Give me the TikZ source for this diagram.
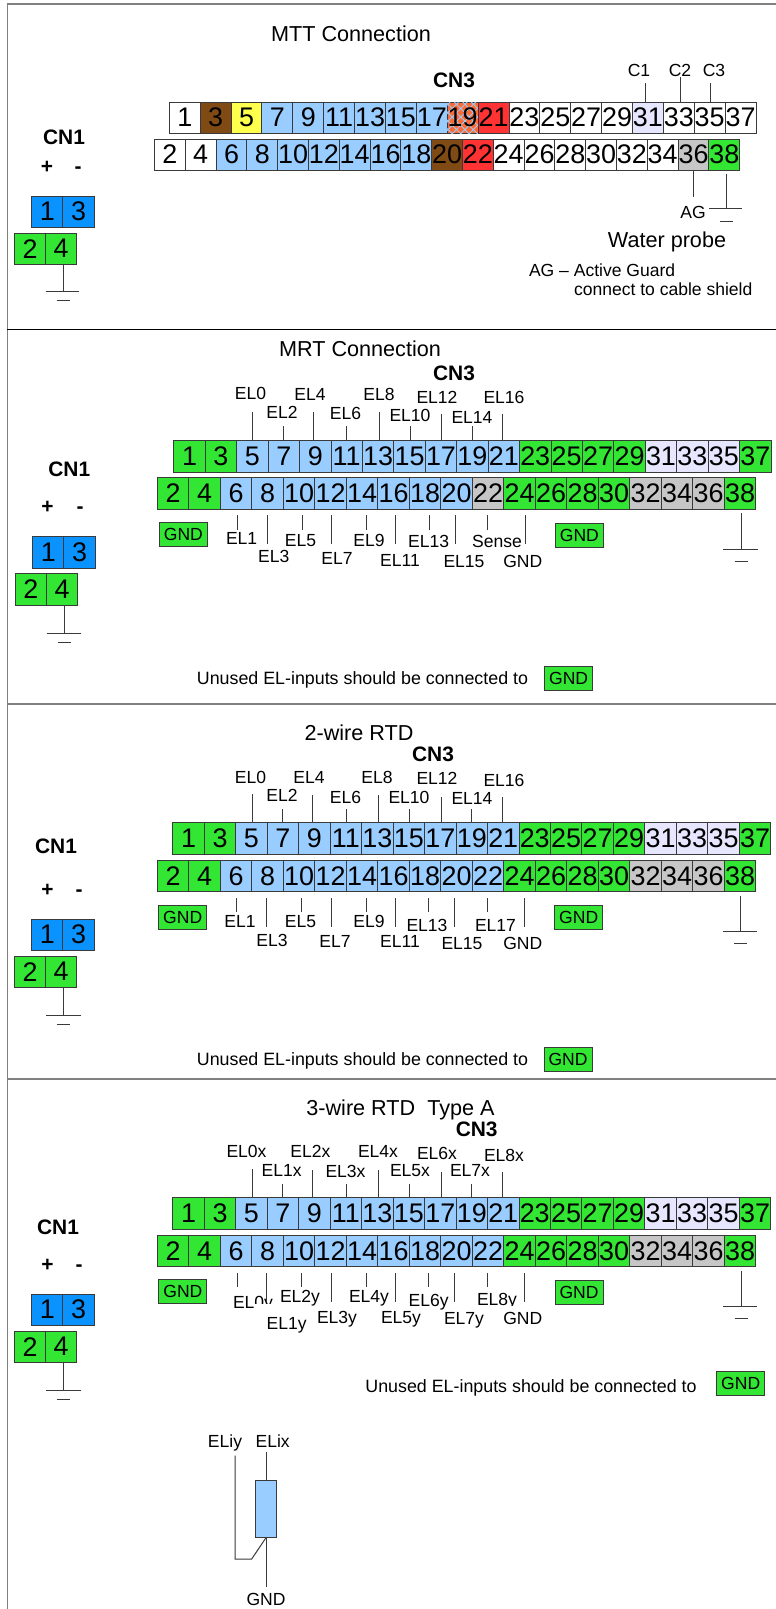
\documentclass[tikz,border=0pt]{standalone}
\usepackage{fontspec}
\setmainfont{Liberation Sans}
\usetikzlibrary{patterns.meta}
\definecolor{cWire}{HTML}{3A3A3A}
\definecolor{cBlue}{HTML}{99CCFF}
\definecolor{cGreen}{HTML}{33E633}
\definecolor{cDeep}{HTML}{0A93FF}
\definecolor{cBrown}{HTML}{7F4A14}
\definecolor{cYellow}{HTML}{FFFF4D}
\definecolor{cRed}{HTML}{FF3333}
\definecolor{cLav}{HTML}{E6E6FF}
\definecolor{cGray}{HTML}{C6C6C6}
\definecolor{cOrange}{HTML}{FF6A33}
\tikzset{
  pw/.style={fill=white}, pb/.style={fill=cBlue}, pg/.style={fill=cGreen},
  pd/.style={fill=cDeep}, pn/.style={fill=cBrown}, py/.style={fill=cYellow},
  pr/.style={fill=cRed}, pl/.style={fill=cLav}, pa/.style={fill=cGray},
  ph/.style={fill=cOrange,
    postaction={pattern={Lines[angle=45,distance=6pt,line width=.9pt]},pattern color=cBlue},
    postaction={pattern={Lines[angle=-45,distance=6pt,line width=.9pt]},pattern color=cBlue}},
  cell/.style={draw=cWire,line width=.9pt,rectangle,inner sep=0pt,outer sep=0pt,
    font=\fontsize{27}{30}\selectfont},
  lab/.style={inner sep=0pt,outer sep=0pt,text height=12.4pt,text depth=0pt,
    font=\fontsize{17.6}{20}\selectfont},
  note/.style={lab,font=\fontsize{17.9}{20}\selectfont},
  ttl/.style={inner sep=0pt,outer sep=0pt,text height=15.4pt,text depth=0pt,
    font=\fontsize{21.7}{25}\selectfont},
  bld/.style={inner sep=0pt,outer sep=0pt,text height=15pt,text depth=0pt,
    font=\fontsize{21}{25}\selectfont\bfseries},
  wire/.style={draw=cWire,line width=.9pt},
  frameline/.style={draw=gray,line width=1.3pt},
  gndbox/.style={draw=cWire,line width=.9pt,fill=cGreen,inner sep=0pt,outer sep=0pt,
    minimum width=48bp,minimum height=24bp,text height=12.4pt,text depth=0pt,
    font=\fontsize{17.6}{20}\selectfont},
  resistor/.style={draw=cWire,line width=1pt,fill=cBlue}
}
% prefix, x0, y centre, cell width, cell height, first number, styles
\newcommand{\pinrow}[7]{%
  \foreach \c [count=\i from 0] in {#7}{%
    \pgfmathtruncatemacro\n{#6+2*\i}%
    \node[cell,\c,minimum width=#4bp,minimum height=#5bp] (#1\n) at ({#2+(\i+.5)*#4},#3) {\n};
  }}
\newcommand{\labs}[2]{%
  \foreach \x/\y/\t [count=\i] in {#2}{\node[lab] (#1\i) at (\x,\y) {\t};}}
% wire from a free end down to a pin
\newcommand{\pinwires}[2]{%
  \foreach \x/\y/\p [count=\i] in {#2}{%
    \coordinate (#1f\i) at (\x,\y);
    \draw[wire] (#1f\i) -- (#1f\i |- \p.north);}}
% free wires
\newcommand{\freewires}[2]{%
  \foreach \x/\y/\z [count=\i] in {#2}{%
    \coordinate (#1a\i) at (\x,\y);
    \coordinate (#1b\i) at (\x,\z);
    \draw[wire] (#1a\i) -- (#1b\i);}}
% name, x, y end of stem, bar left, bar right, dash y, stem start y
\newcommand{\earth}[7]{%
  \coordinate (#1s) at (#2,#7);
  \coordinate (#1e) at (#2,#3);
  \coordinate (#1l) at (#4,#3);
  \coordinate (#1r) at (#5,#3);
  \draw[wire] (#1s) -- (#1e);
  \draw[wire] (#1l) -- (#1r);
  \coordinate (#1dl) at (#2-6.5,#6);
  \coordinate (#1dr) at (#2+6.5,#6);
  \draw[wire] (#1dl) -- (#1dr);}
\newcommand{\cnone}[9]{%
  \node[bld] (#1cn) at (#2,#3) {CN1};
  \node[bld] (#1plus) at (#4,#6) {+};
  \node[bld] (#1minus) at (#5,#6) {-};
  \pinrow{#1q}{#7}{#8+15.7}{31.2}{31.2}{1}{pd,pd}
  \pinrow{#1q}{#9}{#8+52.7}{31.2}{31.2}{2}{pg,pg}}
\begin{document}
\begin{tikzpicture}[x=1bp,y=-1bp]
\useasboundingbox (0,0) rectangle (776,1609);
\fill[white] (0,0) rectangle (776,1609);
% frame
\coordinate (ftl) at (7.4,4);
\coordinate (ftr) at (776,4);
\coordinate (fbl) at (7.4,1609);
\draw[frameline] (ftr) -- (ftl) -- (fbl);
\coordinate (d1l) at (7.4,329); \coordinate (d1r) at (776,329);
\draw[draw=black,line width=.9pt] (d1l) -- (d1r);
\coordinate (d2l) at (7.4,704); \coordinate (d2r) at (776,704);
\draw[frameline] (d2l) -- (d2r);
\coordinate (d3l) at (7.4,1079); \coordinate (d3r) at (776,1079);
\draw[frameline] (d3l) -- (d3r);

%% Section 1: MTT
\node[ttl] (t1) at (351,33.5) {MTT Connection};
\node[bld] (a1) at (454,80) {CN3};
\pinrow{a}{169.3}{117.5}{30.88}{31}{1}{pw,pn,py,pb,pb,pb,pb,pb,pb,ph,pr,pw,pw,pw,pw,pl,pw,pw,pw}
\pinrow{a}{154.5}{154.5}{30.8}{31}{2}{pw,pw,pb,pb,pb,pb,pb,pb,pb,pn,pr,pw,pw,pw,pw,pw,pw,pa,pg}
\cnone{a}{64}{137}{47}{78}{166}{31.7}{196}{14.4}
\earth{ag}{63}{291}{45.5}{79}{300}{264}
\labs{ac}{639/70/C1,680/70/C2,714/70/C3}
\pinwires{ac}{645/83/a31,680/77/a33,710/83/a35}
\freewires{ap}{693.6/171/197}
\node[lab] (aag) at (693,212) {AG};
\earth{ah}{726}{208}{709}{741.6}{221}{174}
\node[ttl] (awp) at (667,240) {Water probe};
\node[lab,anchor=west] (an1) at (529,270) {AG – Active Guard};
\node[lab,anchor=west] (an2) at (574,289) {connect to cable shield};

%% Section 2: MRT
\node[ttl] (t2) at (360,349) {MRT Connection};
\node[bld] (b1) at (454,373) {CN3};
\pinrow{b}{173.8}{456}{31.43}{32}{1}{pg,pg,pb,pb,pb,pb,pb,pb,pb,pb,pb,pg,pg,pg,pg,pl,pl,pl,pg}
\pinrow{b}{157.4}{493.5}{31.5}{31.5}{2}{pg,pg,pb,pb,pb,pb,pb,pb,pb,pb,pa,pg,pg,pg,pg,pa,pa,pa,pg}
\cnone{b}{69.3}{469}{47.5}{80}{506}{32.7}{536.7}{15.3}
\earth{bg}{64.4}{633}{47}{81}{642}{605}
\labs{bt}{250.5/393/EL0,282/412/EL2,310/394/EL4,345.5/413/EL6,379/394/EL8,410/415/EL10,437/397/EL12,472/417/EL14,504/397/EL16}
\pinwires{bt}{252.5/412/b5,283.7/426/b7,313/412/b9,346.5/426/b11,379/412/b13,410/426/b15,441.6/414/b17,472/426/b19,502.5/414/b21}
\freewires{bw}{237.6/515/529.7,267/515/544,302.5/515/529.7,331.7/515/544,366.8/515/529.7,395.5/515/544,429/515/529.7,455/515/544,487.6/515/529.7,525/515/544}
\labs{bl}{241.6/538/EL1,273.8/556.7/EL3,300.5/540/EL5,337/558/EL7,369/540/EL9,400/560/EL11,428.7/541/EL13,464/561/EL15,497/541/Sense,522.8/561/GND}
\node[gndbox] (bg1) at (183.4,534.7) {GND};
\node[gndbox] (bg2) at (579.4,535) {GND};
\earth{bh}{741}{549}{723}{758}{561}{513}
\node[note] (bu) at (362.5,678) {Unused EL-inputs should be connected to};
\node[gndbox] (bg3) at (568.6,678) {GND};

%% Section 3: 2-wire RTD
\node[ttl] (t3) at (359,733) {2-wire RTD};
\node[bld] (c1) at (433,754) {CN3};
\pinrow{c}{172.8}{838.5}{31.47}{31.5}{1}{pg,pg,pb,pb,pb,pb,pb,pb,pb,pb,pb,pg,pg,pg,pg,pl,pl,pl,pg}
\pinrow{c}{157.4}{876}{31.5}{31.5}{2}{pg,pg,pb,pb,pb,pb,pb,pb,pb,pb,pb,pg,pg,pg,pg,pa,pa,pa,pg}
\cnone{c}{56}{846}{47.5}{79}{889}{31.7}{919}{14.4}
\earth{cg}{63.4}{1015}{46}{80.7}{1024}{987.7}
\labs{ct}{250.5/777/EL0,282/795/EL2,309/777/EL4,345.5/797/EL6,377/777/EL8,409/797/EL10,437/778/EL12,472/798/EL14,504/780/EL16}
\pinwires{ct}{252/794/c5,282.7/809/c7,312.4/795/c9,346/809/c11,378.7/795/c13,409/809/c15,441/797/c17,471/809/c19,502/797/c21}
\freewires{cw}{236.6/898/912,266.8/898/927,301.5/898/912,331/898/927,366/898/912,395/898/927,428.7/898/912,454/898/927,487/898/912,524.8/898/927}
\labs{cl}{240/921/EL1,272/940/EL3,300.5/921/EL5,335/941/EL7,369/921/EL9,400/941/EL11,427/925/EL13,462/943/EL15,495.5/925/EL17,522.8/943/GND}
\node[gndbox] (cg1) at (182.7,917) {GND};
\node[gndbox] (cg2) at (578.7,917.7) {GND};
\earth{ch}{740.6}{931}{722.8}{757.4}{943.7}{895.7}
\node[note] (cu) at (362.5,1059) {Unused EL-inputs should be connected to};
\node[gndbox] (cg3) at (568,1059.7) {GND};

%% Section 4: 3-wire RTD Type A
\node[ttl] (t4) at (400.5,1108) {3-wire RTD\ \ Type A};
\node[bld] (e1) at (476.7,1129) {CN3};
\pinrow{e}{172.8}{1213.5}{31.47}{31.5}{1}{pg,pg,pb,pb,pb,pb,pb,pb,pb,pb,pb,pg,pg,pg,pg,pl,pl,pl,pg}
\pinrow{e}{157.4}{1251}{31.5}{31.5}{2}{pg,pg,pb,pb,pb,pb,pb,pb,pb,pb,pb,pg,pg,pg,pg,pa,pa,pa,pg}
\cnone{e}{58}{1227}{47.5}{79}{1264}{31.7}{1294}{14.4}
\earth{eg}{63.4}{1390}{46}{80.7}{1399}{1363}
\labs{et}{246.5/1151/EL0x,281.7/1170/EL1x,310.4/1151/EL2x,345.5/1171/EL3x,378/1151/EL4x,410/1170/EL5x,437/1153/EL6x,470/1170/EL7x,504/1155/EL8x}
\pinwires{et}{252/1169/e5,282.7/1184/e7,312.4/1170/e9,346/1184/e11,378.7/1170/e13,409.4/1184/e15,441/1172/e17,471/1184/e19,502.5/1172/e21}
% labels partly hidden by the white boxes of their neighbours
\node[lab] (eh1) at (253,1302) {EL0y};
\fill[white] (255,1303.5) rectangle (285,1316);
\node[lab] (eh2) at (497,1299.5) {EL8y};
\fill[white] (480,1306.2) rectangle (520,1312);
\freewires{ew}{237/1273/1287,266.8/1273/1302,301.5/1273/1287,331/1273/1302,366/1273/1287,395/1273/1302,428.7/1273/1287,454/1273/1302,487/1273/1287,524.8/1273/1302}
\labs{el}{286.6/1323/EL1y,300/1296/EL2y,337/1317/EL3y,369/1296/EL4y,401/1317/EL5y,428.7/1300/EL6y,464/1318/EL7y,522.8/1318/GND}
\node[gndbox] (eg1) at (182.9,1291.8) {GND};
\node[gndbox] (eg2) at (579,1292.8) {GND};
\earth{eh}{741}{1306}{723}{757.4}{1318.7}{1270.7}
\node[note] (eu) at (531,1386) {Unused EL-inputs should be connected to};
\node[gndbox] (eg3) at (740.7,1383) {GND};

%% Resistor detail
\node[lab] (ry) at (225,1441) {ELiy};
\node[lab] (rx) at (272.7,1441) {ELix};
\node[resistor,inner sep=0pt,outer sep=0pt,minimum width=21.3bp,minimum height=57.7bp] (rr) at (265.65,1508.85) {};
\node[lab] (rg) at (266,1599) {GND};
\coordinate (rtop) at (266,1452);
\coordinate (rbot) at (266,1586.7);
\coordinate (ry1) at (235,1455.7);
\coordinate (ry2) at (235,1559);
\coordinate (ry3) at (251.7,1559);
\draw[wire,line width=1pt] (rtop) -- (rtop |- rr.north);
\draw[wire,line width=1pt] (rbot) -- (rbot |- rr.south);
\draw[wire,line width=1pt] (ry1) -- (ry2) -- (ry3) -- (rbot |- rr.south);
\end{tikzpicture}
\end{document}
